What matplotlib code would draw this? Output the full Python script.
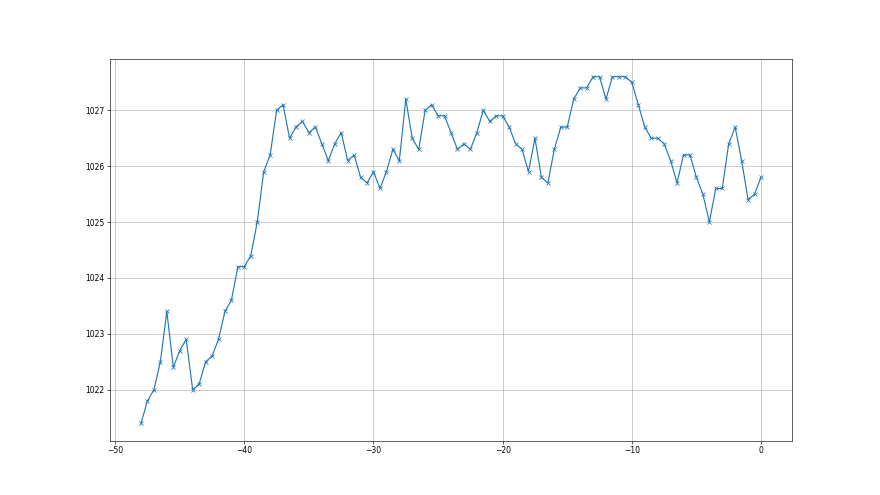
import matplotlib
matplotlib.use('Agg')
import matplotlib.pyplot as plt

# hours before now (half-hour steps)
hours = [-48.0, -47.5, -47.0, -46.5, -46.0, -45.5, -45.0, -44.5, -44.0, -43.5,
         -43.0, -42.5, -42.0, -41.5, -41.0, -40.5, -40.0, -39.5, -39.0, -38.5,
         -38.0, -37.5, -37.0, -36.5, -36.0, -35.5, -35.0, -34.5, -34.0, -33.5,
         -33.0, -32.5, -32.0, -31.5, -31.0, -30.5, -30.0, -29.5, -29.0, -28.5,
         -28.0, -27.5, -27.0, -26.5, -26.0, -25.5, -25.0, -24.5, -24.0, -23.5,
         -23.0, -22.5, -22.0, -21.5, -21.0, -20.5, -20.0, -19.5, -19.0, -18.5,
         -18.0, -17.5, -17.0, -16.5, -16.0, -15.5, -15.0, -14.5, -14.0, -13.5,
         -13.0, -12.5, -12.0, -11.5, -11.0, -10.5, -10.0, -9.5, -9.0, -8.5,
         -8.0, -7.5, -7.0, -6.5, -6.0, -5.5, -5.0, -4.5, -4.0, -3.5,
         -3.0, -2.5, -2.0, -1.5, -1.0, -0.5, 0.0]

pressure = [1021.4, 1021.8, 1022.0, 1022.5, 1023.4, 1022.4, 1022.7, 1022.9, 1022.0, 1022.1,
            1022.5, 1022.6, 1022.9, 1023.4, 1023.6, 1024.2, 1024.2, 1024.4, 1025.0, 1025.9,
            1026.2, 1027.0, 1027.1, 1026.5, 1026.7, 1026.8, 1026.6, 1026.7, 1026.4, 1026.1,
            1026.4, 1026.6, 1026.1, 1026.2, 1025.8, 1025.7, 1025.9, 1025.6, 1025.9, 1026.3,
            1026.1, 1027.2, 1026.5, 1026.3, 1027.0, 1027.1, 1026.9, 1026.9, 1026.6, 1026.3,
            1026.4, 1026.3, 1026.6, 1027.0, 1026.8, 1026.9, 1026.9, 1026.7, 1026.4, 1026.3,
            1025.9, 1026.5, 1025.8, 1025.7, 1026.3, 1026.7, 1026.7, 1027.2, 1027.4, 1027.4,
            1027.6, 1027.6, 1027.2, 1027.6, 1027.6, 1027.6, 1027.5, 1027.1, 1026.7, 1026.5,
            1026.5, 1026.4, 1026.1, 1025.7, 1026.2, 1026.2, 1025.8, 1025.5, 1025.0, 1025.6,
            1025.6, 1026.4, 1026.7, 1026.1, 1025.4, 1025.5, 1025.8]

fig = plt.figure(figsize=(16, 9), dpi=55)
plt.plot(hours, pressure, marker='x')
plt.grid(True)
plt.savefig('out.png', dpi=55)
